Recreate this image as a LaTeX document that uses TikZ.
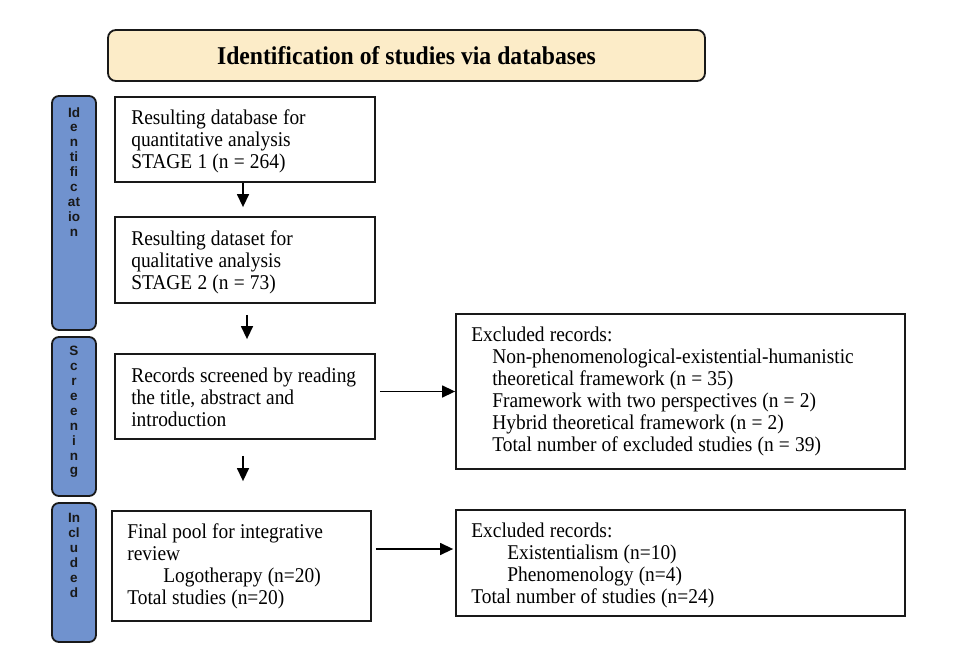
\documentclass[tikz,border=0pt]{standalone}
\usepackage{fontspec}
\setmainfont{Liberation Serif}[FakeStretch=0.925]
\setsansfont{Liberation Sans}
\usetikzlibrary{arrows.meta}
\definecolor{titlefill}{RGB}{252,236,200}
\definecolor{barfill}{RGB}{112,146,206}
\newcommand\mytightfont{\fontsize{21}{22}\selectfont\spaceskip=5.2pt plus 1pt minus 1pt\relax}
\begin{document}
\begin{tikzpicture}[x=1pt,y=-1pt,
  box/.style={draw=black!90,line width=1.8pt,fill=white,inner sep=0pt},
  txt/.style={anchor=west,inner sep=0pt,align=left,font=\mytightfont},
  bar/.style={draw=black!90,line width=1.8pt,fill=barfill,rounded corners=7pt,minimum width=44pt,inner sep=0pt},
  sidetxt/.style={font=\sffamily\bfseries\fontsize{13.5}{14.9}\selectfont,align=center,text=black!90,inner sep=0pt},
  arr/.style={line width=1.4pt,-{Triangle[length=13pt,width=12pt]}}]
\useasboundingbox (0,0) rectangle (960,660);
\fill[white] (0,0) rectangle (960,660);
% title
\node[draw=black!90,line width=1.8pt,fill=titlefill,rounded corners=8pt,minimum width=597pt,minimum height=51pt,inner sep=0pt,font=\bfseries\fontsize{25.6}{28}\selectfont] (title) at (406.5,55.5) {Identification of studies via databases};
% side bars
\node[bar,minimum height=234pt] (s1) at (74,213) {};
\node[bar,minimum height=159pt] (s2) at (74,416.5) {};
\node[bar,minimum height=139pt] (s3) at (74,572.5) {};
\node[sidetxt,anchor=north] (t1) at ([yshift=-12pt]s1.north) {Id\\e\\n\\ti\\fi\\c\\at\\io\\n};
\node[sidetxt,anchor=north] (t2) at ([yshift=-10pt]s2.north) {S\\c\\r\\e\\e\\n\\i\\n\\g};
\node[sidetxt,anchor=north] (t3) at ([yshift=-11pt]s3.north) {In\\cl\\u\\d\\e\\d};
% boxes
\node[box,minimum width=260pt,minimum height=85pt] (b1) at (245,139.5) {};
\node[box,minimum width=260pt,minimum height=86pt] (b2) at (245,260) {};
\node[box,minimum width=260pt,minimum height=85pt] (b3) at (245,396.5) {};
\node[box,minimum width=259pt,minimum height=110pt] (b4) at (241.5,566) {};
\node[box,minimum width=449pt,minimum height=155pt] (e1) at (680.5,391.5) {};
\node[box,minimum width=449pt,minimum height=106pt] (e2) at (680.5,563) {};
% texts
\node[txt] (b1t) at ([xshift=17pt,yshift=-2pt]b1.west) {Resulting database for\\quantitative analysis\\STAGE 1 (n = 264)};
\node[txt] (b2t) at ([xshift=17pt,yshift=-2pt]b2.west) {Resulting dataset for\\qualitative analysis\\STAGE 2 (n = 73)};
\node[txt] (b3t) at ([xshift=17pt,yshift=-1pt]b3.west) {Records screened by reading\\the title, abstract and\\introduction};
\node[txt] (b4t) at ([xshift=16pt,yshift=0pt]b4.west) {Final pool for integrative\\review\\\hspace*{36pt}Logotherapy (n=20)\\Total studies (n=20)};
\node[txt] (e1t) at ([xshift=16pt,yshift=0pt]e1.west) {Excluded records:\\\hspace*{21pt}Non-phenomenological-existential-humanistic\\\hspace*{21pt}theoretical framework (n = 35)\\\hspace*{21pt}Framework with two perspectives (n = 2)\\\hspace*{21pt}Hybrid theoretical framework (n = 2)\\\hspace*{21pt}Total number of excluded studies (n = 39)};
\node[txt] (e2t) at ([xshift=16pt,yshift=-2pt]e2.west) {Excluded records:\\\hspace*{36pt}Existentialism (n=10)\\\hspace*{36pt}Phenomenology (n=4)\\Total number of studies (n=24)};
% arrow columns
\coordinate (ca) at (243,0);
\coordinate (cb) at (247,0);
% arrows
\draw[arr,shorten >=9pt] (b1.south -| ca) -- (b2.north -| ca);
\draw[arr,shorten <=11pt,shorten >=14pt] (b2.south -| cb) -- (b3.north -| cb);
\draw[arr,shorten <=16pt,shorten >=29pt] (b3.south -| ca) -- (b4.north -| ca);
\draw[arr,shorten <=4pt] (b3.east |- e1.west) -- (e1.west);
\draw[arr,shorten <=4pt,shorten >=2pt] ([yshift=17pt]b4.east) -- ([yshift=14pt]e2.west);
\end{tikzpicture}
\end{document}
